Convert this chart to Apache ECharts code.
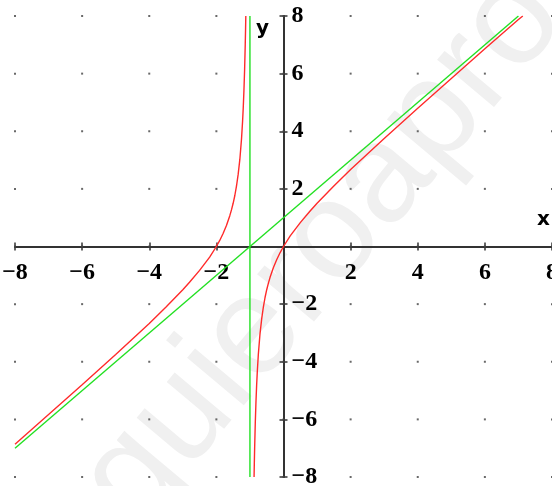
<!DOCTYPE html>
<html>
<head>
<meta charset="utf-8">
<script src="https://cdn.jsdelivr.net/npm/echarts@6/dist/echarts.min.js"></script>
<style>html,body{margin:0;padding:0;background:#fff;}#c{width:552px;height:486px;}</style>
</head>
<body>
<div id="c"></div>
<script>
// Tick values (labels shown with a true minus sign, 0 omitted)
var xTicks = [-8, -6, -4, -2, 0, 2, 4, 6, 8];
var yTicks = [-8, -6, -4, -2, 0, 2, 4, 6, 8];

// Red curve, left branch (x, y)
var redLeft = [
  [-8, -6.86], [-7, -5.83], [-6, -4.8], [-5, -3.75], [-4.5, -3.21], [-4, -2.67], [-3.5, -2.1],
  [-3, -1.5], [-2.8, -1.24], [-2.5, -0.83], [-2.2, -0.37], [-2, 0], [-1.9, 0.21], [-1.8, 0.45],
  [-1.7, 0.73], [-1.6, 1.07], [-1.55, 1.27], [-1.5, 1.5], [-1.45, 1.77], [-1.4, 2.1],
  [-1.35, 2.51], [-1.3, 3.03], [-1.25, 3.75], [-1.22, 4.33], [-1.2, 4.8], [-1.18, 5.38],
  [-1.16, 6.09], [-1.14, 7.0], [-1.13, 7.56], [-1.123, 8.0]
];
// Red curve, right branch
var redRight = [
  [-0.877, -8.0], [-0.87, -7.56], [-0.86, -7.0], [-0.84, -6.09], [-0.82, -5.38], [-0.8, -4.8],
  [-0.78, -4.33], [-0.75, -3.75], [-0.7, -3.03], [-0.65, -2.51], [-0.6, -2.1], [-0.55, -1.77],
  [-0.5, -1.5], [-0.45, -1.27], [-0.4, -1.07], [-0.3, -0.73], [-0.2, -0.45], [-0.1, -0.21],
  [0, 0], [0.2, 0.37], [0.5, 0.83], [0.8, 1.24], [1, 1.5], [1.5, 2.1], [2, 2.67], [2.5, 3.21],
  [3, 3.75], [4, 4.8], [5, 5.83], [6, 6.86], [7, 7.88], [7.13, 8.0]
];
// Green oblique asymptote
var greenOblique = [[-8, -7], [7, 8]];
// Green vertical asymptote
var greenVertical = [[-1, -8], [-1, 8]];

var dots = [];
xTicks.forEach(function (x) { yTicks.forEach(function (y) { dots.push([x, y]); }); });

var FONT = 'Liberation Serif';
function fmt(v) { if (v === 0) return ''; return v < 0 ? '\u2212' + (-v) : String(v); }
var axisColor = '#333';
var labelStyle = { formatter: fmt, fontFamily: FONT, fontWeight: 'bold', fontSize: 24, color: '#000', showMinLabel: true, showMaxLabel: true, hideOverlap: false };

var GL = 15, GR = 0, GT = 16, GB = 9;
var W = 552, H = 486;
var halfH = (H - GT - GB) / 2, halfW = (W - GL - GR) / 2;

var chart = echarts.init(document.getElementById('c'), null, { renderer: 'canvas' });
chart.setOption({
  animation: false,
  backgroundColor: '#fff',
  grid: { left: GL, right: GR, top: GT, bottom: GB, containLabel: false, outerBoundsMode: 'none' },
  xAxis: [
    { type: 'value', min: -8, max: 8, interval: 2, position: 'bottom', offset: -halfH,
      axisLine: { show: true, onZero: false, lineStyle: { color: axisColor, width: 2 } },
      axisTick: { show: true, length: 4, lineStyle: { color: axisColor, width: 1.5 } },
      axisLabel: Object.assign({ margin: 14 }, labelStyle),
      splitLine: { show: false } },
    { type: 'value', min: -8, max: 8, interval: 2, position: 'top', offset: -halfH,
      axisLine: { show: false, onZero: false },
      axisTick: { show: true, length: 4, lineStyle: { color: axisColor, width: 1.5 } },
      axisLabel: { show: false }, splitLine: { show: false } }
  ],
  yAxis: [
    { type: 'value', min: -8, max: 8, interval: 2, position: 'right', offset: -halfW,
      axisLine: { show: true, onZero: false, lineStyle: { color: axisColor, width: 2 } },
      axisTick: { show: true, length: 4, lineStyle: { color: axisColor, width: 1.5 } },
      axisLabel: Object.assign({ margin: 8 }, labelStyle),
      splitLine: { show: false } },
    { type: 'value', min: -8, max: 8, interval: 2, position: 'left', offset: -halfW,
      axisLine: { show: false, onZero: false },
      axisTick: { show: true, length: 4, lineStyle: { color: axisColor, width: 1.5 } },
      axisLabel: { show: false }, splitLine: { show: false } }
  ],
  graphic: [
    { type: 'text', z: -100, rotation: 50 * Math.PI / 180,
      x: 108, y: 507,
      style: { text: 'quieroaprobar', fontFamily: 'Liberation Sans', fontSize: 140, fill: '#f0f0f0', textAlign: 'left', textVerticalAlign: 'middle', verticalAlign: 'middle' } },
    { type: 'text', left: 537, top: 210, z: 100,
      style: { text: 'x', fontFamily: 'DejaVu Sans', fontWeight: 'bold', fontSize: 20, fill: '#000' } },
    { type: 'text', left: 256, top: 19, z: 100,
      style: { text: 'y', fontFamily: 'DejaVu Sans', fontWeight: 'bold', fontSize: 20, fill: '#000' } }
  ],
  series: [
    { type: 'scatter', data: dots, symbol: 'rect', symbolSize: 2, itemStyle: { color: '#444' }, silent: true, z: 1 },
    { type: 'line', data: greenOblique, showSymbol: false, lineStyle: { color: '#22e022', width: 1.4 }, z: 3 },
    { type: 'line', data: greenVertical, showSymbol: false, lineStyle: { color: '#22e022', width: 1.4 }, z: 3 },
    { type: 'line', data: redLeft, showSymbol: false, lineStyle: { color: '#ff2a2a', width: 1.4 }, z: 4 },
    { type: 'line', data: redRight, showSymbol: false, lineStyle: { color: '#ff2a2a', width: 1.4 }, z: 4 }
  ]
});
</script>
</body>
</html>
